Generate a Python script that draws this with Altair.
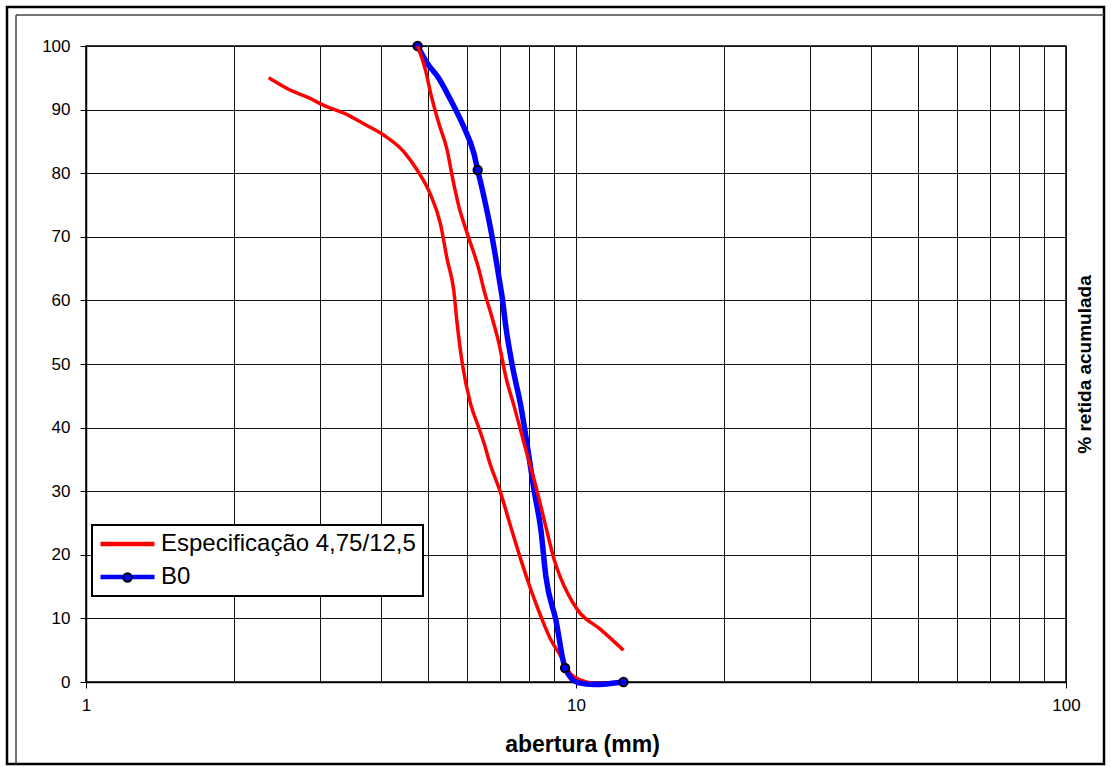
import altair as alt
import pandas as pd

SPEC = "Especificação 4,75/12,5"
B0 = "B0"

# Especificação - lower limit curve (left red)
spec_lower_x = [2.36, 2.59, 2.86, 3.05, 3.41, 3.68, 4.05, 4.45, 4.74, 5.05, 5.29, 5.46, 5.63, 5.72,
                5.86, 6.09, 6.34, 6.54, 6.64, 7.02, 7.36, 7.72, 8.09, 8.48, 8.89, 9.32, 9.62, 9.92,
                11.0, 12.5]
spec_lower_y = [95.0, 93.2, 91.8, 90.7, 89.2, 87.8, 86.0, 83.4, 80.5, 76.6, 72.0, 66.4, 61.6, 56.4,
                50.1, 43.8, 39.9, 36.7, 34.9, 29.7, 24.4, 19.2, 14.5, 10.3, 6.6, 4.0, 1.9, 0.8,
                -0.2, 0.0]

# Especificação - upper limit curve (right red)
spec_upper_x = [4.75, 4.93, 5.05, 5.25, 5.46, 5.59, 5.77, 6.0, 6.34, 6.49, 6.70, 6.96, 7.19, 7.48,
                7.90, 8.35, 8.61, 9.03, 9.62, 10.08, 11.25, 12.5]
spec_upper_y = [100.0, 96.2, 92.6, 87.8, 83.6, 79.5, 74.7, 70.5, 64.8, 61.6, 58.0, 53.3, 48.0, 43.3,
                36.5, 29.7, 25.5, 19.2, 13.9, 11.3, 8.2, 5.0]

# B0 curve (blue, as drawn)
b0_curve_x = [4.75, 4.97, 5.25, 5.55, 5.90, 6.19, 6.30, 6.44, 6.70, 6.96, 7.08, 7.19, 7.42, 7.72,
              7.96, 8.21, 8.48, 8.68, 9.10, 9.50, 10.08, 10.9, 12.5]
b0_curve_y = [100.0, 97.3, 94.9, 91.5, 87.3, 83.1, 80.5, 77.4, 71.1, 63.7, 60.1, 55.9, 49.6, 43.3,
              37.0, 30.2, 23.9, 16.6, 9.7, 2.2, -0.1, -0.4, 0.0]

# B0 measured points (markers)
b0_x = [4.75, 6.3, 9.5, 12.5]
b0_y = [100.0, 80.5, 2.2, 0.0]

x_tick_values = [1, 2, 3, 4, 5, 6, 7, 8, 9, 10, 20, 30, 40, 50, 60, 70, 80, 90, 100]
y_tick_values = [0, 10, 20, 30, 40, 50, 60, 70, 80, 90, 100]

rows = []
for i, (x, y) in enumerate(zip(spec_lower_x, spec_lower_y)):
    rows.append(dict(x=x, y=y, series=SPEC, curve="lower", ord=i))
for i, (x, y) in enumerate(zip(b0_curve_x, b0_curve_y)):
    rows.append(dict(x=x, y=y, series=B0, curve="b0", ord=i))
for i, (x, y) in enumerate(zip(spec_upper_x, spec_upper_y)):
    rows.append(dict(x=x, y=y, series=SPEC, curve="upper", ord=i))
lines = pd.DataFrame(rows)
markers = pd.DataFrame(dict(x=b0_x, y=b0_y, series=[B0] * len(b0_x)))
one = pd.DataFrame({"k": [0]})

W, H = 980, 636
FONT = "Liberation Sans"

xscale = alt.Scale(type="log", domain=[1, 100], nice=False)
yscale = alt.Scale(domain=[0, 100], nice=False, zero=False)
color_scale = alt.Scale(domain=[SPEC, B0], range=["#FF0000", "#0000FF"])

decade = "datum.value == 1 || datum.value == 10 || datum.value == 100"

x_axis = alt.Axis(
    values=x_tick_values, grid=True, gridColor="#111111", gridWidth=1,
    domainColor="#000000", domainWidth=1.5,
    tickColor="#000000", tickSize=6,
    tickOpacity={"condition": {"test": decade, "value": 1}, "value": 0},
    labelExpr="(" + decade + ") ? '' + datum.value : ''",
    labelFont=FONT, labelFontSize=17, labelColor="#000000", labelPadding=9,
    labelFlush=False, labelOverlap=False,
    title="abertura (mm)", titleFont=FONT, titleFontSize=23, titleFontWeight="bold",
    titleColor="#000000", titleX=496, titleY=69, titleBaseline="alphabetic", titleAlign="center",
)
y_axis = alt.Axis(
    values=y_tick_values, grid=True, gridColor="#111111", gridWidth=1,
    domainColor="#000000", domainWidth=1.5,
    tickColor="#000000", tickSize=6,
    labelFont=FONT, labelFontSize=17, labelColor="#000000", labelPadding=10,
    title="% retida acumulada", titleFont=FONT, titleFontSize=19, titleFontWeight="bold",
    titleColor="#000000", titleX=998, titleY=318, titleAngle=270,
    titleBaseline="middle", titleAlign="center",
)

line_legend = alt.Legend(
    orient="none", legendX=6, legendY=479, title=None,
    symbolType="M-2.33,0H9.67", symbolSize=81, symbolStrokeWidth=4.5,
    labelFont=FONT, labelFontSize=24, labelColor="#000000", labelOffset=38,
    labelLimit=600,
    fillColor="#FFFFFF", strokeColor="#000000", padding=7, rowPadding=9,
    cornerRadius=0,
)
marker_legend = alt.Legend(
    orient="none", legendX=36, legendY=526, title=None,
    symbolType="circle", symbolSize=70, symbolStrokeWidth=2,
    symbolFillColor="#0000FF", symbolStrokeColor="#000000",
    labelExpr="''", labelFontSize=1, padding=0, zindex=2,
)

base = alt.Chart(lines).encode(
    x=alt.X("x:Q", scale=xscale, axis=x_axis),
    y=alt.Y("y:Q", scale=yscale, axis=y_axis),
    color=alt.Color("series:N", scale=color_scale, legend=line_legend),
    order=alt.Order("ord:Q"),
)
lower = base.transform_filter(alt.datum.curve == "lower").mark_line(
    strokeWidth=3.5, interpolate="monotone")
blue = base.transform_filter(alt.datum.curve == "b0").mark_line(
    strokeWidth=5.5, interpolate="monotone")
upper = base.transform_filter(alt.datum.curve == "upper").mark_line(
    strokeWidth=3.5, interpolate="monotone")

pts = alt.Chart(markers).mark_point(
    filled=True, fill="#0000FF", size=70, strokeWidth=2, opacity=1
).encode(
    x=alt.X("x:Q", scale=xscale),
    y=alt.Y("y:Q", scale=yscale),
    stroke=alt.Stroke("series:N", scale=alt.Scale(domain=[B0], range=["#000000"]),
                      legend=marker_legend),
)

frame = alt.Chart(one).mark_rect(filled=False, stroke="#000000", strokeWidth=2.5).encode(
    x=alt.value(-79), x2=alt.value(1018), y=alt.value(-39), y2=alt.value(718))
inner_top = alt.Chart(one).mark_rule(stroke="#444444", strokeWidth=1.5).encode(
    x=alt.value(-70), x2=alt.value(1018), y=alt.value(-31))
inner_left = alt.Chart(one).mark_rule(stroke="#444444", strokeWidth=1.5).encode(
    x=alt.value(-70), y=alt.value(-31), y2=alt.value(718))

chart = alt.layer(lower, blue, pts, upper, frame, inner_top, inner_left).resolve_scale(
    color="independent", stroke="independent"
).properties(
    width=W, height=H,
    autosize=alt.AutoSizeParams(type="none"),
    padding={"left": 86, "top": 46, "right": 45, "bottom": 85},
    background="#FFFFFF",
).configure_view(stroke="#000000", strokeWidth=1.5).configure_legend(strokeWidth=2)

chart.save("out.html", embed_options={"renderer": "svg", "actions": False})
